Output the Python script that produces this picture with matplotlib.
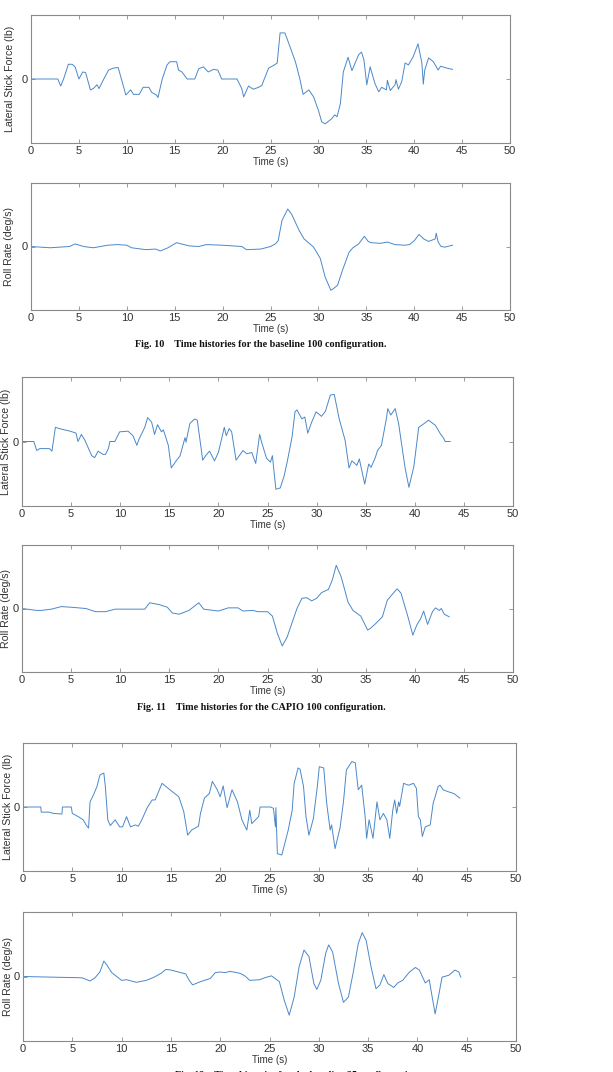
import matplotlib
matplotlib.use("Agg")
import matplotlib.pyplot as plt

# values, in percent of half the axis range (axes are unscaled)

# Fig. 10, baseline 100
t_stick_10 = [0, 2.8, 3.1, 3.4, 3.9, 4.3, 4.6, 5.0, 5.4, 5.7, 6.2, 6.5, 6.9, 7.1, 7.6, 8.1, 8.6, 9.1,
              9.9, 10.4, 10.7, 11.3, 11.7, 12.3, 12.6, 13.1, 13.25, 13.7, 14.2, 14.5, 15.2, 15.4, 15.75,
              16.3, 17.1, 17.5, 18.0, 18.5, 19.05, 19.5, 19.9, 21.5, 22.0, 22.2, 22.7, 23.2, 23.75, 24.1,
              24.3, 24.8, 25.3, 25.7, 26.0, 26.5, 26.9, 27.6, 28.1, 28.4, 29.0, 29.5, 30.0, 30.35, 30.7,
              31.4, 31.7, 31.95, 32.3, 32.6, 33.1, 33.5, 34.2, 34.5, 34.75, 35.05, 35.4, 35.9, 36.3, 36.6,
              37.1, 37.2, 37.5, 38.0, 38.1, 38.35, 38.7, 39.05, 39.4, 39.9, 40.4, 40.8, 40.95, 41.1, 41.5,
              42.0, 42.5, 42.75, 43.4, 44.0]
stick_10 = [0, 0, -11, 0, 23, 23, 19, 0, 11, 10, -17, -15, -9, -15, 0, 14, 17, 18,
            -25, -17, -24, -24, -13, -13, -21, -25, -29, 0, 22, 27, 27, 14, 11,
            0, 0, 16, 19, 11, 15, 14, 0, 0, -15, -28, -11, -16, -13, -10,
            -2, 17, 21, 25, 72, 72, 56, 27, -2, -24, -17, -28, -49, -67, -70,
            -62, -56, -59, -38, 11, 34, 13, 38, 42, 30, -9, 19, -7, -20, -13,
            -17, -2, -18, -9, -1, -16, -4, 25, 22, 35, 55, 25, -8, 14, 33,
            27, 14, 20, 17, 15]
t_roll_10 = [0, 2, 3, 4, 4.6, 5.5, 6.5, 8, 9, 10, 10.5, 12, 13, 13.5, 14.3, 15.2, 16.5, 17.5, 18.3, 20,
             22, 22.5, 24, 25, 25.5, 25.8, 26.2, 26.8, 27.2, 28, 28.5, 29.5, 30.2, 30.7, 31.3, 31.6, 32,
             32.5, 33.2, 33.6, 34.2, 34.8, 35.2, 35.5, 36.5, 37.2, 38, 39, 39.5, 40, 40.5, 41, 41.5,
             42.2, 42.3, 42.5, 42.8, 43.2, 44]
roll_10 = [0, -2, -1, 0, 4, 0, -2, 2, 3, 2, -2, -5, -4, -7, -2, 6, 1, 0, 3, 2,
           0, -5, -4, 0, 4, 9, 41, 59, 51, 25, 12, -1, -19, -48, -69, -66, -61,
           -38, -9, -2, 4, 16, 8, 6, 5, 7, 3, 2, 3, 9, 19, 12, 8,
           12, 21, 7, 0, -1, 2]

# Fig. 11, CAPIO 100
t_stick_11 = [0, 1.2, 1.5, 1.8, 2.8, 3.05, 3.4, 3.8, 4.9, 5.5, 5.7, 6.05, 6.4, 7.1, 7.4, 7.75, 8.25, 8.5,
              8.8, 8.95, 9.45, 9.95, 10.8, 11.3, 11.7, 11.9, 12.5, 12.8, 13.2, 13.5, 13.8, 14.2, 14.4,
              14.9, 15.2, 15.7, 16.1, 16.6, 16.7, 17.1, 17.6, 17.85, 18.2, 18.4, 18.7, 19.1, 19.6, 20.0,
              20.2, 20.6, 20.8, 21.1, 21.35, 21.8, 22.5, 22.9, 23.4, 23.8, 24.2, 24.4, 24.9, 25.3, 25.5,
              25.85, 26.3, 26.7, 27.0, 27.5, 27.8, 28.0, 28.5, 28.8, 29.1, 29.5, 29.95, 30.5, 30.9, 31.4,
              31.8, 32.3, 32.9, 33.3, 33.6, 34.1, 34.35, 34.9, 35.3, 35.55, 36.0, 36.2, 36.6, 37.1, 37.25,
              37.55, 38.0, 38.35, 39.0, 39.4, 39.9, 40.4, 40.7, 41.4, 42.1, 42.6, 42.9, 43.1, 43.6]
stick_11 = [0, 0, -14, -11, -11, -15, 22, 20, 16, 13, 0, 11, 2, -22, -25, -15, -20, -20,
            -11, 0, 0, 15, 16, 9, -6, 3, 22, 37, 30, 11, 26, 15, 18,
            -6, -41, -30, -22, 6, -1, 28, 35, 33, -6, -29, -22, -15, -30, -17,
            -4, 22, 9, 20, 15, -29, -14, -19, -17, -34, 11, -1, -26, -32, -22,
            -74, -72, -53, -32, 7, 46, 49, 35, 38, 13, 30, 46, 39, 47, 72,
            73, 35, 2, -41, -30, -37, -27, -66, -35, -40, -24, -14, -6, 35, 51,
            41, 51, 28, -40, -71, -39, 22, 25, 33, 25, 12, 6, 0, 0]
t_roll_11 = [0, 1.5, 2, 3, 4, 5, 6.5, 7.5, 8.5, 9.5, 12.5, 13, 14, 14.8, 15.3, 16, 17, 18, 18.5, 19.5,
             20, 21, 22, 22.5, 23.5, 24, 25, 25.5, 26, 26.5, 27, 28, 28.5, 29, 29.5, 30, 30.5, 31.2,
             31.6, 32, 32.5, 33.2, 33.7, 34.5, 35.2, 35.5, 36, 36.7, 37.2, 37.8, 38.2, 38.6, 39.3, 39.8,
             40.2, 40.6, 40.9, 41.3, 41.8, 42.1, 42.5, 42.7, 43, 43.5]
roll_11 = [0, -3, -3, -1, 3, 2, 0, -5, -5, -1, -1, 9, 6, 2, -7, -9, -3, 9, -1, -3,
           -4, 1, 1, -4, -3, -5, -5, -12, -39, -59, -45, 0, 16, 17, 12, 16, 25, 30,
           45, 68, 50, 10, -3, -12, -34, -31, -24, -13, 13, 24, 31, 24, -13, -42,
           -26, -16, -4, -25, -5, 1, -3, 0, -9, -13]

# Fig. 12, baseline 25
t_stick_12 = [0, 1.8, 1.85, 2.6, 3.1, 3.95, 4.0, 4.9, 5.0, 5.6, 6.1, 6.4, 6.65, 6.8, 7.15, 7.5, 7.8, 8.2,
              8.35, 8.6, 8.85, 9.35, 9.8, 10.1, 10.5, 10.9, 11.4, 11.7, 12.05, 12.6, 13.1, 13.4, 13.75,
              14.1, 14.5, 14.9, 15.8, 16.3, 16.7, 17.1, 17.8, 18.0, 18.4, 18.9, 19.2, 19.7, 20.0, 20.3,
              20.7, 21.2, 21.75, 22.2, 22.7, 23.0, 23.2, 23.9, 24.05, 25.1, 25.4, 25.6, 25.65, 25.8, 26.25,
              26.9, 27.3, 27.5, 27.9, 28.1, 28.45, 28.7, 29.0, 29.45, 29.85, 30.05, 30.5, 30.8, 31.15,
              31.3, 31.65, 32.15, 32.5, 32.8, 33.35, 33.7, 34.0, 34.35, 34.7, 34.85, 35.1, 35.5, 35.7,
              35.9, 36.2, 36.55, 36.9, 37.2, 37.5, 37.7, 37.9, 38.1, 38.2, 38.6, 39.1, 39.6, 39.9, 40.1,
              40.3, 40.5, 40.8, 41.3, 41.6, 41.8, 42.1, 42.3, 42.6, 43.1, 43.7, 44.3]
stick_12 = [0, 0, -8, -8, -10, -11, 0, 0, -10, -15, -20, -28, -33, 8, 19, 32, 50, 53,
            32, -20, -29, -20, -31, -31, -15, -31, -28, -30, -20, -1, 11, 11, 24,
            37, 32, 27, 16, -7, -44, -36, -30, -10, 14, 21, 40, 27, 16, 33,
            -1, 27, 8, -20, -36, -5, -26, -15, 0, 0, -2, -31, -1, -73, -75,
            -36, -5, 37, 61, 59, 32, -15, -44, -18, 32, 63, 61, 6, -36,
            -28, -65, -33, 8, 58, 71, 69, 27, 34, -15, -49, -20, -49, -20,
            8, -20, -10, -20, -49, -5, 11, -10, 8, 1, 37, 34, 37, 29, -15,
            -20, -46, -31, -28, 6, 16, 32, 34, 27, 24, 21, 14]
t_roll_12 = [0, 3, 6, 6.8, 7.3, 7.8, 8.2, 8.5, 9, 10, 10.5, 11, 11.5, 12.5, 13.3, 14, 14.5, 15, 16.5,
             16.9, 17.2, 18, 19, 19.5, 20, 20.5, 21, 22, 22.5, 23, 24, 24.5, 25.2, 26, 26.5, 27, 27.5,
             28, 28.5, 29, 29.5, 29.8, 30.2, 30.7, 31, 31.4, 32, 32.5, 33, 33.5, 34, 34.4, 34.8, 35.3,
             35.8, 36.2, 36.6, 37, 37.6, 38, 38.5, 39.2, 39.8, 40.2, 40.8, 41.2, 41.5, 41.8, 42.2,
             42.5, 43.2, 43.8, 44.2, 44.4]
roll_12 = [0, -1, -2, -7, -2, 7, 24, 18, 6, -6, -5, -7, -9, -6, -1, 5, 11, 10, 4,
           -7, -13, -8, -3, 6, 7, 6, 8, 5, 1, -6, -5, -2, 1, -8, -37, -60, -32,
           15, 41, 31, -11, -20, -6, 36, 49, 38, -11, -40, -32, 7, 51, 68, 56, 15,
           -19, -13, 3, -11, -17, -10, -6, 7, 14, 10, -10, -5, -32, -58, -26,
           -1, 2, 10, 7, -1]

captions = ["Fig. 10    Time histories for the baseline 100 configuration.",
            "Fig. 11    Time histories for the CAPIO 100 configuration.",
            "Fig. 12    Time histories for the baseline 25 configuration."]

W, H = 613, 1072
line_color = "#4a88c9"
axis_color = "#8a8a8a"
label_font = ["Liberation Sans", "DejaVu Sans"]

fig = plt.figure(figsize=(W / 100, H / 100), dpi=100)


def make_axes(left, top, right, bottom):
    # pixel box -> figure fraction
    return fig.add_axes([left / W, 1 - bottom / H, (right - left) / W, (bottom - top) / H])


def draw_panel(ax, t, y, ylabel, label_x):
    ax.plot(t, y, color=line_color, lw=0.7)
    ax.set_xlim(0, 50)
    ax.set_ylim(-100, 100)
    ax.set_xticks(range(0, 51, 5))
    ax.set_yticks([0])
    ax.tick_params(direction="in", length=3, width=0.6, color=axis_color,
                   top=True, right=True, labelsize=8, labelcolor="#333333", pad=2)
    for lab in ax.get_xticklabels() + ax.get_yticklabels():
        lab.set_family(label_font)
    for s in ax.spines.values():
        s.set_color(axis_color)
        s.set_linewidth(0.8)
    ax.set_xlabel("Time (s)", fontsize=7, family=label_font, color="#333333", labelpad=1)
    ax.set_ylabel(ylabel, fontsize=7.6, family=label_font, color="#333333", va="center")
    # put the y label centre at label_x pixels from the page edge
    box = ax.get_position()
    ax.yaxis.set_label_coords((label_x / W - box.x0) / box.width, 0.5)


boxes = [
    (31, 15, 510, 143), (31, 183, 510, 310),
    (22, 377, 513, 506), (22, 545, 513, 672),
    (23, 743, 516, 871), (23, 912, 516, 1041),
]
label_xs = [10, 9, 6.5, 6.5, 8, 8]
series = [
    (t_stick_10, stick_10, "Lateral Stick Force (lb)"),
    (t_roll_10, roll_10, "Roll Rate (deg/s)"),
    (t_stick_11, stick_11, "Lateral Stick Force (lb)"),
    (t_roll_11, roll_11, "Roll Rate (deg/s)"),
    (t_stick_12, stick_12, "Lateral Stick Force (lb)"),
    (t_roll_12, roll_12, "Roll Rate (deg/s)"),
]
for box, lx, (t, y, lab) in zip(boxes, label_xs, series):
    ax = make_axes(*box)
    draw_panel(ax, t, y, lab, lx)

# figure captions (the last one is cut by the page edge)
cap_pos = [(261, 345), (261, 707), (298, 1075)]
for (cx, cy), text in zip(cap_pos, captions):
    fig.text(cx / W, 1 - cy / H, text, ha="center", va="center", fontsize=7.3,
             fontweight="bold", family=["Liberation Serif", "DejaVu Serif"], color="#111111")

fig.savefig("out.png", dpi=100)
